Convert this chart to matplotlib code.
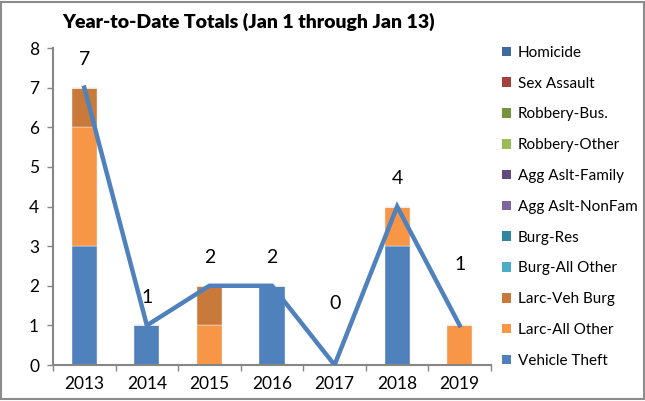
import numpy as np
import matplotlib
matplotlib.use("Agg")
import matplotlib.pyplot as plt
from matplotlib.patches import Patch

# Daten
years = ["2013", "2014", "2015", "2016", "2017", "2018", "2019"]
kategorien = ["Homicide", "Sex Assault", "Robbery-Bus.", "Robbery-Other", "Agg Aslt-Family",
              "Agg Aslt-NonFam", "Burg-Res", "Burg-All Other", "Larc-Veh Burg", "Larc-All Other",
              "Vehicle Theft"]
homicide = [0, 0, 0, 0, 0, 0, 0]
sex_assault = [0, 0, 0, 0, 0, 0, 0]
robbery_bus = [0, 0, 0, 0, 0, 0, 0]
robbery_other = [0, 0, 0, 0, 0, 0, 0]
agg_family = [0, 0, 0, 0, 0, 0, 0]
agg_nonfam = [0, 0, 0, 0, 0, 0, 0]
burg_res = [0, 0, 0, 0, 0, 0, 0]
burg_other = [0, 0, 0, 0, 0, 0, 0]
larc_veh = [1, 0, 1, 0, 0, 0, 0]
larc_other = [3, 0, 1, 0, 0, 1, 1]
vehicle_theft = [3, 1, 0, 2, 0, 3, 0]
totals = [7, 1, 2, 2, 0, 4, 1]

werte = [homicide, sex_assault, robbery_bus, robbery_other, agg_family, agg_nonfam,
         burg_res, burg_other, larc_veh, larc_other, vehicle_theft]
farben = ["#3E6A9F", "#A43F3D", "#779340", "#9BBB59", "#614A7D", "#8064A2",
          "#31859C", "#4BACC6", "#C97A3B", "#F79646", "#4F81BD"]

# Abstand der Beschriftung über dem Punkt (in Punkten)
label_offset = [20, 20, 20, 20, 44, 20, 44]

plt.rcParams["font.family"] = ["Lato", "DejaVu Sans"]

fig = plt.figure(figsize=(6.45, 4.01), dpi=100)
ax = fig.add_axes([53/645, 36/401, 438/645, 317/401])

x = np.arange(len(years))
bottom = np.zeros(len(years))
# Stapel von unten (Vehicle Theft) nach oben (Homicide)
for name, vals, col in reversed(list(zip(kategorien, werte, farben))):
    vals = np.array(vals, dtype=float)
    ax.bar(x, vals, width=0.4, bottom=bottom, color=col, edgecolor="#f4f4f4", linewidth=0.3, zorder=2)
    bottom += vals

ax.plot(x, totals, color="#4F81BD", linewidth=3.2, zorder=3, solid_joinstyle="miter")
for xi, t, off in zip(x, totals, label_offset):
    ax.annotate(str(t), (xi, t), xytext=(0, off), textcoords="offset points",
                ha="center", va="center", fontsize=14)

ax.set_xlim(-0.5, len(years) - 0.5)
ax.set_ylim(0, 8)
ax.set_yticks(range(0, 9))
ax.set_xticks(np.arange(len(years) + 1) - 0.5, minor=False)
ax.set_xticklabels([])
ax.set_xticks(x, minor=True)
ax.set_xticklabels(years, minor=True, fontsize=12.5)
ax.tick_params(axis="x", which="minor", length=0, pad=8)
ax.tick_params(axis="x", which="major", length=4, color="#868686", width=1)
ax.tick_params(axis="y", length=4, color="#868686", width=1, labelsize=12.5, pad=6)
for s in ["top", "right"]:
    ax.spines[s].set_visible(False)
for s in ["left", "bottom"]:
    ax.spines[s].set_color("#868686")
    ax.spines[s].set_linewidth(1.5)

fig.text(0.385, 0.945, "Year-to-Date Totals (Jan 1 through Jan 13)", ha="center", va="center",
         fontsize=14, fontweight="heavy")

handles = [Patch(facecolor=c, label=n) for n, c in zip(kategorien, farben)]
fig.legend(handles=handles, loc="upper left", bbox_to_anchor=(488/645, 1 - 32/401), frameon=False,
           prop={"size": 11}, handlelength=0.6, handleheight=0.6,
           handletextpad=0.45, labelspacing=1.1)

# Rahmen um die Grafik
fig.patches.append(plt.Rectangle((0.002, 0.004), 0.996, 0.99, transform=fig.transFigure,
                                 fill=False, edgecolor="#8c8c8c", linewidth=1.5))

fig.savefig("out.png", dpi=100)
